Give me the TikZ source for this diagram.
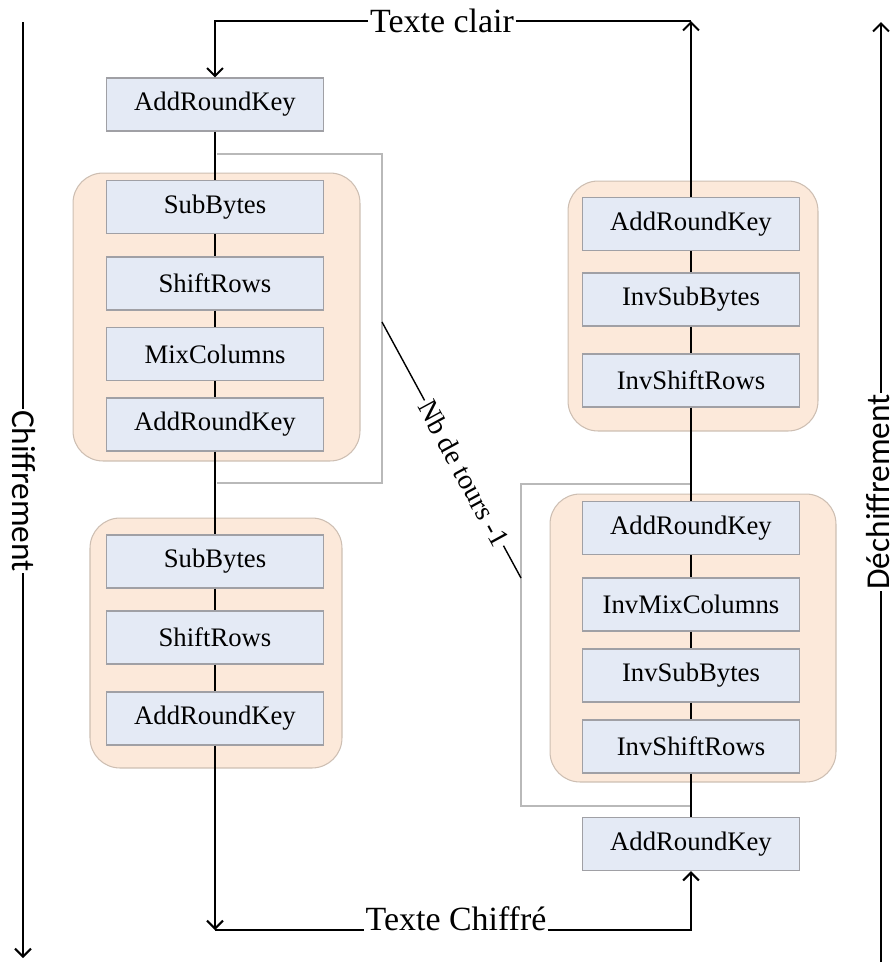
\documentclass[tikz,border=0pt]{standalone}
\usepackage{fontspec}
\setmainfont{Liberation Serif}
\newfontfamily\cotefont{Carlito}
\usetikzlibrary{arrows.meta}

\definecolor{bleuboite}{RGB}{228,234,245}
\definecolor{bordboite}{RGB}{160,160,165}
\definecolor{orangetour}{RGB}{252,233,218}
\definecolor{bordtour}{RGB}{205,190,178}
\definecolor{grisaccolade}{RGB}{185,185,185}

\tikzset{
  etape/.style={draw=bordboite, fill=bleuboite, line width=0.6pt, minimum width=4.34cm, minimum height=1.06cm, inner sep=0pt, font=\fontsize{15.2}{18}\selectfont},
  tour/.style={draw=bordtour, fill=orangetour, line width=0.6pt, rounded corners=0.6cm, inner sep=0pt},
  lien/.style={line width=1.4pt},
  fleche/.style={line width=1.2pt, -{Straight Barb[length=4.5pt,width=9pt]}},
  accolade/.style={draw=grisaccolade, line width=0.6pt},
  grostexte/.style={font=\fontsize{19.3}{22}\selectfont},
  cote/.style={font=\cotefont\fontsize{19}{22}\selectfont, fill=white, inner sep=0.5pt},
}

\begin{document}
\begin{tikzpicture}[x=0.02cm, y=-0.02cm]
		\useasboundingbox (0,0) rectangle (893,965);
		%%rounds
		\node[tour, minimum width=5.74cm, minimum height=5.76cm] (tour1) at (216.5,317) {};
		\node[tour, minimum width=5.04cm, minimum height=5.0cm] (tour2) at (216,643) {};
		\node[tour, minimum width=5.0cm, minimum height=5.0cm] (itour1) at (693,306) {};
		\node[tour, minimum width=5.72cm, minimum height=5.76cm] (itour2) at (693,638) {};
		%%brackets
		\draw[accolade] (217,154) -- (382,154) -- (382,483) -- (217,483);
		\draw[accolade] (691,484) -- (521,484) -- (521,806) -- (691,806);
		%%encryption
		\node[etape] (ark1) at (215,104.5) {AddRoundKey};
		\node[etape] (sub1) at (215,207) {SubBytes};
		\node[etape] (shift1) at (215,283.5) {ShiftRows};
		\node[etape] (mix1) at (215,354) {MixColumns};
		\node[etape] (ark2) at (215,424.5) {AddRoundKey};
		\node[etape] (sub2) at (215,561.5) {SubBytes};
		\node[etape] (shift2) at (215,637.5) {ShiftRows};
		\node[etape] (ark3) at (215,718.5) {AddRoundKey};
		%%decryption
		\node[etape] (iark1) at (691,224) {AddRoundKey};
		\node[etape] (isub1) at (691,299.5) {InvSubBytes};
		\node[etape] (ishift1) at (691,380.5) {InvShiftRows};
		\node[etape] (iark2) at (691,528) {AddRoundKey};
		\node[etape] (imix) at (691,604.5) {InvMixColumns};
		\node[etape] (isub2) at (691,675.5) {InvSubBytes};
		\node[etape] (ishift2) at (691,746.5) {InvShiftRows};
		\node[etape] (iark3) at (691,844) {AddRoundKey};
		%%links
		\draw[lien] (ark1) -- (sub1);
		\draw[lien] (sub1) -- (shift1);
		\draw[lien] (shift1) -- (mix1);
		\draw[lien] (mix1) -- (ark2);
		\draw[lien] (ark2) -- (sub2);
		\draw[lien] (sub2) -- (shift2);
		\draw[lien] (shift2) -- (ark3);
		\draw[lien] (iark1) -- (isub1);
		\draw[lien] (isub1) -- (ishift1);
		\draw[lien] (ishift1) -- (iark2);
		\draw[lien] (iark2) -- (imix);
		\draw[lien] (imix) -- (isub2);
		\draw[lien] (isub2) -- (ishift2);
		\draw[lien] (ishift2) -- (iark3);
		%%plain text
		\node[grostexte, inner sep=1pt] (clair) at (442,21) {Texte clair};
		\coordinate (coin-clair) at (691,21);
		\draw[fleche] (clair.west) -| (ark1.north);
		\draw[line width=1.2pt] (clair.east) -- (coin-clair);
		\draw[fleche] (iark1.north) -- (coin-clair);
		%%cipher text
		\node[grostexte, anchor=base, inner sep=0.5pt] (chiffre) at (456,930) {Texte Chiffré};
		\coordinate (coin-chiffre) at (215,930);
		\draw[fleche] (ark3.south) -- (coin-chiffre);
		\draw[line width=1.2pt] (coin-chiffre) -- (chiffre.base west);
		\draw[fleche] (chiffre.base east) -| (iark3.south);
		%%number of rounds
		\coordinate (nb-haut) at (382,322);
		\coordinate (nb-bas) at (521,578);
		\draw[line width=0.8pt] (nb-haut) -- node[pos=0.59, sloped, fill=white, inner sep=1pt, font=\fontsize{16}{18}\selectfont] {Nb de tours -1} (nb-bas);
		%%sides
		\coordinate (chif-haut) at (23,22);
		\coordinate (chif-bas) at (23,958);
		\draw[fleche] (chif-haut) -- (chif-bas);
		\node[cote, rotate=-90] (chif) at (24,491) {Chiffrement};
		\coordinate (dech-haut) at (881,22);
		\coordinate (dech-bas) at (881,962);
		\draw[fleche] (dech-bas) -- (dech-haut);
		\node[cote, rotate=90] (dech) at (878,492) {Déchiffrement};
	\end{tikzpicture}
\end{document}
